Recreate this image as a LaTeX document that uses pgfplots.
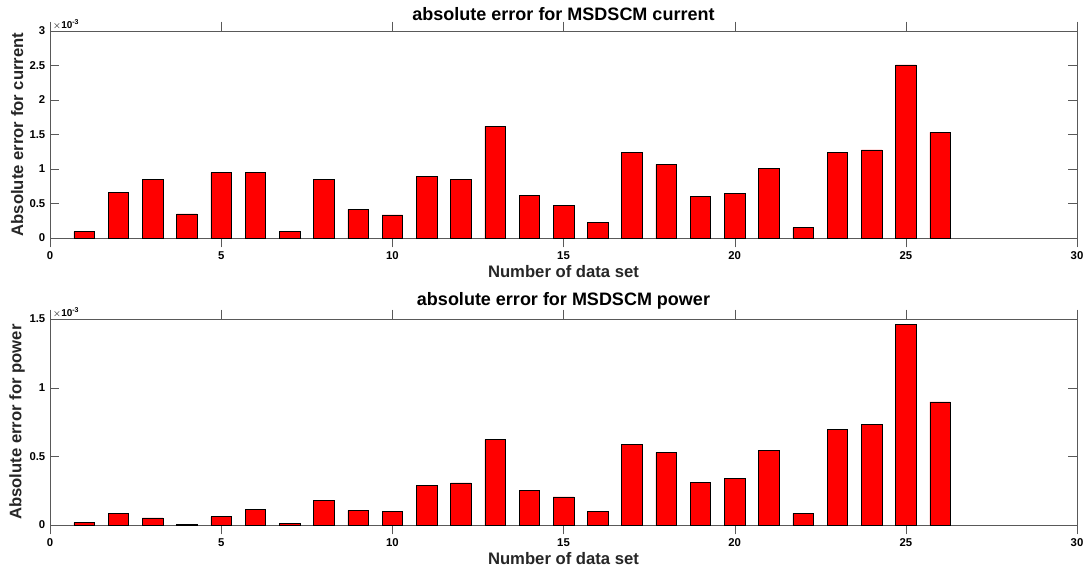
\documentclass[border=0pt]{standalone}
\usepackage{fontspec}
\setmainfont{Liberation Sans}
\usepackage{pgfplots}
\pgfplotsset{compat=1.18}
\pgfplotsset{
  mybar/.style={
    scale only axis,
    clip=false,
    width=770.25pt,
    xmin=0, xmax=30,
    ymin=0,
    xtick={0,5,...,30},
    tick align=inside,
    xtick pos=both, ytick pos=both,
    major tick length=7pt,
    axis line style={draw=black!65},
    tick style={draw=black!65},
    tick label style={font=\fontsize{8.5}{10}\selectfont\bfseries},
    /pgf/number format/assume math mode=true,
    title style={font=\fontsize{13.5}{15}\selectfont\bfseries, yshift=-2pt},
    xlabel={Number of data set},
    x label style={at={(axis description cs:0.5,-0.125)}, anchor=north, inner sep=1pt, font=\fontsize{12.5}{14}\selectfont\bfseries, text=black!85},
    y label style={at={(axis description cs:-0.032,0.5)}, anchor=center, font=\fontsize{12.5}{14}\selectfont\bfseries, text=black!85},
    ybar, bar width=0.6,
  }
}
\begin{document}
\begin{tikzpicture}
\useasboundingbox (0,0) rectangle (818.25pt,425.25pt);
\begin{axis}[mybar,
  at={(37.5pt,246.75pt)}, anchor=south west,
  height=155.25pt,
  ymax=3, ytick={0,0.5,...,3},
  yticklabels={0,0.5,1,1.5,2,2.5,3},
  ylabel={Absolute error for current},
  title={absolute error for MSDSCM current}]
\addplot[fill=red, draw=black] coordinates {
(1,0.092) (2,0.665) (3,0.854) (4,0.350) (5,0.947) (6,0.956) (7,0.092) (8,0.854)
(9,0.413) (10,0.335) (11,0.893) (12,0.854) (13,1.617) (14,0.617) (15,0.471)
(16,0.223) (17,1.243) (18,1.068) (19,0.602) (20,0.650) (21,1.005) (22,0.150)
(23,1.243) (24,1.277) (25,2.510) (26,1.529)};
\node[anchor=south west, font=\fontsize{7.5}{9}\selectfont\bfseries, inner sep=1pt, xshift=1pt] at (rel axis cs:0,1) {$\times$10\textsuperscript{-3}};
\end{axis}
\begin{axis}[mybar,
  at={(37.5pt,31.5pt)}, anchor=south west,
  height=154.5pt,
  ymax=1.5, ytick={0,0.5,1,1.5},
  yticklabels={0,0.5,1,1.5},
  ylabel={Absolute error for power},
  title={absolute error for MSDSCM power}]
\addplot[fill=red, draw=black] coordinates {
(1,0.017) (2,0.084) (3,0.051) (4,0.005) (5,0.060) (6,0.113) (7,0.014) (8,0.181)
(9,0.106) (10,0.099) (11,0.289) (12,0.306) (13,0.622) (14,0.253) (15,0.205)
(16,0.101) (17,0.588) (18,0.528) (19,0.311) (20,0.340) (21,0.543) (22,0.084)
(23,0.699) (24,0.731) (25,1.461) (26,0.897)};
\node[anchor=south west, font=\fontsize{7.5}{9}\selectfont\bfseries, inner sep=1pt, xshift=1pt] at (rel axis cs:0,1) {$\times$10\textsuperscript{-3}};
\end{axis}
\end{tikzpicture}
\end{document}
